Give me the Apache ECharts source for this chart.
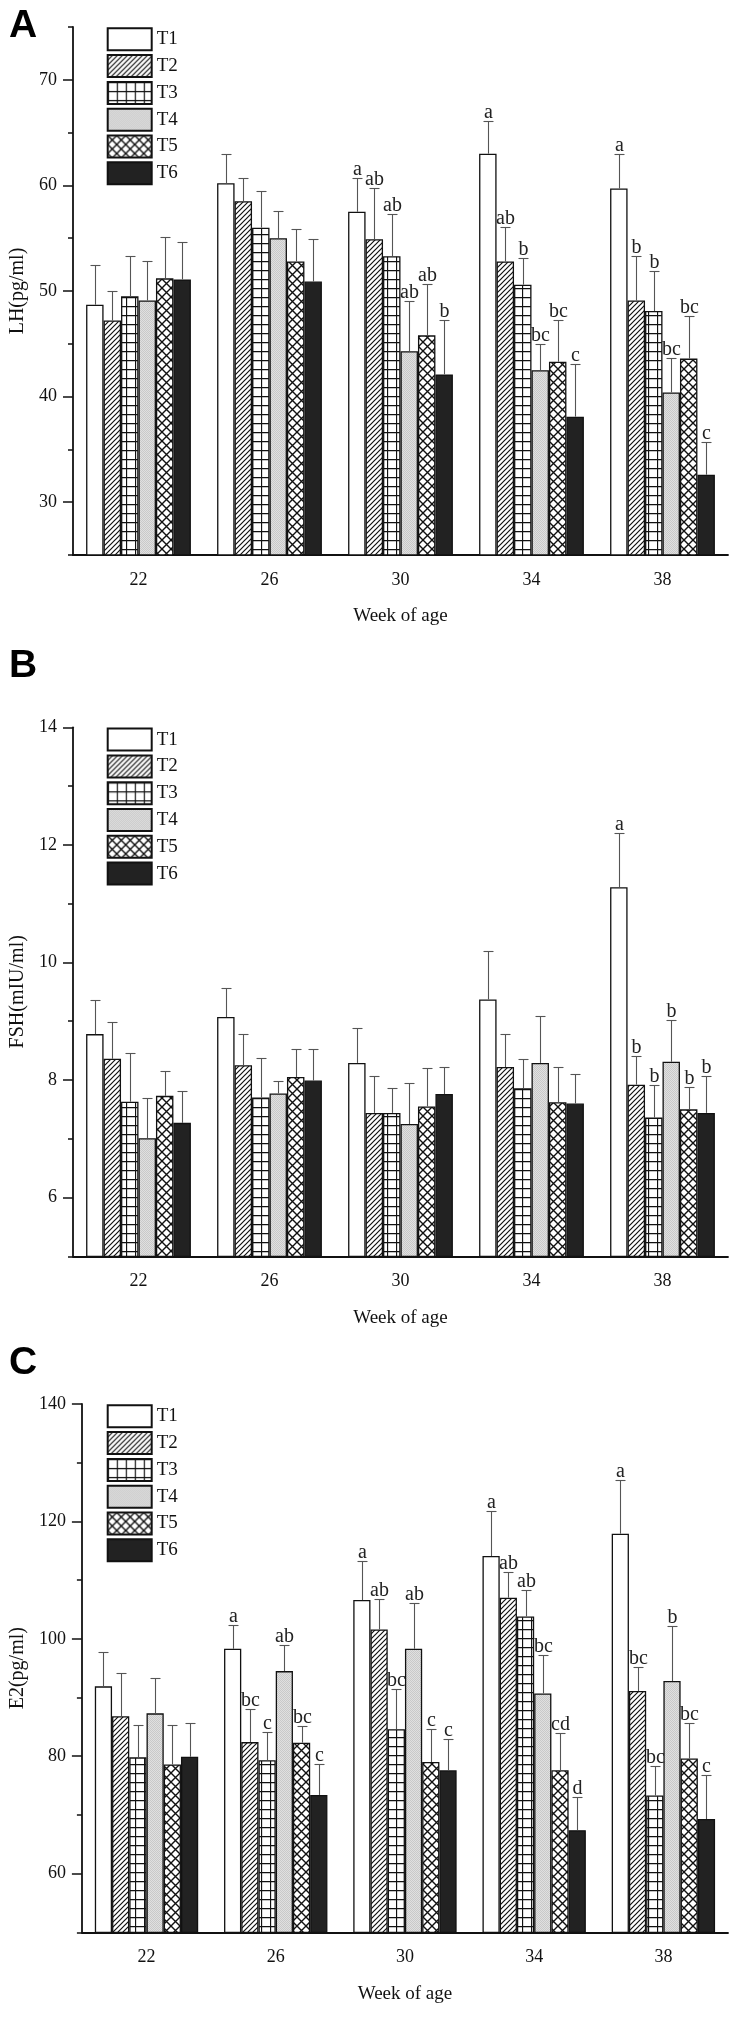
<!DOCTYPE html>
<html><head><meta charset="utf-8">
<script src="https://cdn.jsdelivr.net/npm/echarts@6/dist/echarts.min.js"></script>
<style>html,body{margin:0;padding:0;background:#fff}#c{width:736px;height:2019px}</style>
</head><body><div id="c"></div>
<script>
// ---------- data ----------
const weeks = ['22', '26', '30', '34', '38'];
const treatments = ['T1', 'T2', 'T3', 'T4', 'T5', 'T6'];

// Panel A: LH (pg/ml) — mean and top of error bar, one row per treatment (T1..T6), columns = weeks
const lhMean = [
  [48.7, 60.2, 57.5, 63.0, 59.7],
  [47.2, 58.5, 54.9, 52.8, 49.1],
  [49.5, 56.0, 53.3, 50.6, 48.1],
  [49.1, 55.0, 44.3, 42.5, 40.4],
  [51.2, 52.8, 45.8, 43.3, 43.6],
  [51.1, 50.9, 42.1, 38.1, 32.6]
];
const lhUpper = [
  [52.5, 63.0, 60.7, 66.1, 63.0],
  [50.0, 60.7, 59.8, 56.1, 53.3],
  [53.3, 59.5, 57.3, 53.1, 51.9],
  [52.8, 57.6, 49.1, 45.0, 43.7],
  [55.1, 55.9, 50.7, 47.3, 47.6],
  [54.6, 54.9, 47.3, 43.1, 35.7]
];
const lhLetters = [
  ['', '', 'a', 'a', 'a'],
  ['', '', 'ab', 'ab', 'b'],
  ['', '', 'ab', 'b', 'b'],
  ['', '', 'ab', 'bc', 'bc'],
  ['', '', 'ab', 'bc', 'bc'],
  ['', '', 'b', 'c', 'c']
];
const lhMajorTicks = [30, 40, 50, 60, 70];
const lhMinorTicks = [25, 35, 45, 55, 65, 75];

// Panel B: FSH (mIU/ml)
const fshMean = [
  [8.78, 9.07, 8.29, 9.37, 11.28],
  [8.36, 8.25, 7.44, 8.22, 7.92],
  [7.63, 7.70, 7.44, 7.86, 7.36],
  [7.01, 7.77, 7.25, 8.29, 8.31],
  [7.73, 8.05, 7.55, 7.62, 7.50],
  [7.27, 7.99, 7.76, 7.60, 7.44]
];
const fshUpper = [
  [9.36, 9.56, 8.88, 10.19, 12.20],
  [8.99, 8.78, 8.07, 8.79, 8.41],
  [8.46, 8.38, 7.87, 8.35, 7.91],
  [7.69, 7.98, 7.95, 9.08, 9.02],
  [8.15, 8.53, 8.21, 8.22, 7.88],
  [7.81, 8.53, 8.22, 8.10, 8.07]
];
const fshLetters = [
  ['', '', '', '', 'a'],
  ['', '', '', '', 'b'],
  ['', '', '', '', 'b'],
  ['', '', '', '', 'b'],
  ['', '', '', '', 'b'],
  ['', '', '', '', 'b']
];
const fshMajorTicks = [6, 8, 10, 12, 14];
const fshMinorTicks = [5, 7, 9, 11, 13];

// Panel C: E2 (pg/ml)
const e2Mean = [
  [91.9, 98.3, 106.6, 114.1, 117.9],
  [86.8, 82.4, 101.6, 107.0, 91.1],
  [79.8, 79.3, 84.6, 103.8, 73.3],
  [87.3, 94.5, 98.3, 90.7, 92.8],
  [78.6, 82.3, 79.0, 77.6, 79.6],
  [79.9, 73.4, 77.6, 67.4, 69.3]
];
const e2Upper = [
  [97.7, 102.4, 113.2, 121.8, 127.0],
  [94.1, 88.1, 106.7, 111.3, 95.2],
  [85.4, 84.1, 91.5, 108.3, 78.3],
  [93.3, 99.0, 106.1, 97.3, 102.2],
  [85.3, 85.1, 84.6, 84.0, 85.7],
  [85.7, 78.6, 82.9, 73.0, 76.8]
];
const e2Letters = [
  ['', 'a', 'a', 'a', 'a'],
  ['', 'bc', 'ab', 'ab', 'bc'],
  ['', 'c', 'bc', 'ab', 'bc'],
  ['', 'ab', 'ab', 'bc', 'b'],
  ['', 'bc', 'c', 'cd', 'bc'],
  ['', 'c', 'c', 'd', 'c']
];
const e2MajorTicks = [60, 80, 100, 120, 140];
const e2MinorTicks = [50, 70, 90, 110, 130];

// ---------- styles / layout ----------
const SERIF = '"Liberation Serif", "Times New Roman", serif';
const INK = '#111';

function makePattern(kind) {
  const s = kind === 'diag' ? 5 : (kind === 'stipple' ? 2 : 9);
  const c = document.createElement('canvas');
  c.width = s; c.height = s;
  const g = c.getContext('2d');
  g.fillStyle = '#fff'; g.fillRect(0, 0, s, s);
  if (kind === 'stipple') {
    g.fillStyle = '#e0e0e0'; g.fillRect(0, 0, 2, 2);
    g.fillStyle = '#c9c9c9'; g.fillRect(0, 0, 1, 1); g.fillRect(1, 1, 1, 1);
    return { image: c, repeat: 'repeat' };
  }
  g.strokeStyle = '#111'; g.lineWidth = 1.2;
  g.beginPath();
  if (kind === 'diag') {
    g.moveTo(-1, s + 1); g.lineTo(s + 1, -1);
    g.moveTo(-1, 1); g.lineTo(1, -1);
    g.moveTo(s - 1, s + 1); g.lineTo(s + 1, s - 1);
  } else if (kind === 'grid') {
    g.lineWidth = 1.3;
    g.moveTo(0.5, 0); g.lineTo(0.5, s);
    g.moveTo(0, 0.5); g.lineTo(s, 0.5);
  } else if (kind === 'cross') {
    g.lineWidth = 1.4;
    g.moveTo(0, 0); g.lineTo(s, s);
    g.moveTo(0, s); g.lineTo(s, 0);
  }
  g.stroke();
  return { image: c, repeat: 'repeat' };
}
const fills = [
  '#ffffff',
  makePattern('diag'),
  makePattern('grid'),
  makePattern('stipple'),
  makePattern('cross'),
  '#222222'
];

const panels = [
  { tag: 'A', tagTop: 7, name: 'LH(pg/ml)', top: 27, height: 528, min: 25, max: 75,
    major: lhMajorTicks, minor: lhMinorTicks, mean: lhMean, upper: lhUpper, letters: lhLetters },
  { tag: 'B', tagTop: 647, name: 'FSH(mIU/ml)', top: 727.3, height: 529, min: 5, max: 14,
    major: fshMajorTicks, minor: fshMinorTicks, mean: fshMean, upper: fshUpper, letters: fshLetters },
  { tag: 'C', tagTop: 1344, name: 'E2(pg/ml)', top: 1404, height: 528.3, min: 50, max: 140,
    major: e2MajorTicks, minor: e2MinorTicks, mean: e2Mean, upper: e2Upper, letters: e2Letters }
];

const option = {
  animation: false,
  backgroundColor: '#fff',
  title: [], legend: [], grid: [], xAxis: [], yAxis: [], series: []
};

panels.forEach((P, pi) => {
  option.title.push({
    text: P.tag, left: 9, top: P.tagTop, padding: 0,
    textStyle: { fontFamily: '"Liberation Sans", Arial, sans-serif', fontWeight: 'bold', fontSize: 39, color: '#000' }
  });
  option.legend.push({
    orient: 'vertical', left: 106.7, top: P.top + 0.3, padding: 0,
    itemWidth: 44, itemHeight: 22, itemGap: 2.8, icon: 'rect', selectedMode: false,
    data: treatments,
    textStyle: { fontFamily: SERIF, fontSize: 19, color: INK }
  });
  option.grid.push({ left: 73, width: 655, top: P.top, height: P.height, containLabel: false });
  option.xAxis.push({
    gridIndex: pi, type: 'category', data: weeks,
    axisLine: { lineStyle: { color: INK, width: 1.8 } },
    axisTick: { alignWithLabel: true, length: 10, lineStyle: { color: INK, width: 1.5 } },
    axisLabel: { fontFamily: SERIF, fontSize: 18, color: INK, margin: 16 },
    name: 'Week of age', nameLocation: 'middle', nameGap: 52,
    nameTextStyle: { fontFamily: SERIF, fontSize: 19, color: INK }
  });
  option.yAxis.push({
    gridIndex: pi, type: 'value', min: P.min, max: P.max, position: 'left',
    axisLine: { show: true, lineStyle: { color: INK, width: 1.8 } },
    axisTick: { show: true, customValues: P.major, length: 10, lineStyle: { color: INK, width: 1.5 } },
    axisLabel: { customValues: P.major, fontFamily: SERIF, fontSize: 18, color: INK, margin: 16 },
    splitLine: { show: false },
    name: P.name, nameLocation: 'middle', nameGap: 44, nameRotate: 90,
    nameTextStyle: { fontFamily: SERIF, fontSize: 20, color: INK }
  });
  option.yAxis.push({
    gridIndex: pi, type: 'value', min: P.min, max: P.max, position: 'left',
    axisLine: { show: false },
    axisTick: { show: true, customValues: P.minor, length: 5, lineStyle: { color: INK, width: 1.5 } },
    axisLabel: { show: false },
    splitLine: { show: false }
  });
  const yIdx = pi * 2;
  treatments.forEach((t, k) => {
    option.series.push({
      type: 'bar', name: t, xAxisIndex: pi, yAxisIndex: yIdx,
      data: P.mean[k], barGap: '0%', barCategoryGap: '20%',
      itemStyle: { color: fills[k], borderColor: '#111', borderWidth: 1.3 },
      emphasis: { disabled: true }
    });
  });
  const errData = [];
  treatments.forEach((t, k) => {
    weeks.forEach((w, g) => errData.push([g, k, P.mean[k][g], P.upper[k][g]]));
  });
  option.series.push({
    type: 'custom', xAxisIndex: pi, yAxisIndex: yIdx, z: 5, clip: false,
    encode: { x: 0, y: 3 },
    data: errData,
    renderItem: (params, api) => {
      const g = api.value(0), k = api.value(1), m = api.value(2), u = api.value(3);
      const p0 = api.coord([g, m]);
      const p1 = api.coord([g, u]);
      const bw = api.size([1, 0])[0] * 0.8 / 6;
      const x = Math.round(p0[0] + (k - 2.5) * bw) + 0.5;
      const yTop = Math.round(p1[1]) + 0.5;
      const children = [
        { type: 'line', shape: { x1: x, y1: p0[1], x2: x, y2: yTop }, style: { stroke: '#555', lineWidth: 1.1 } },
        { type: 'line', shape: { x1: x - 5, y1: yTop, x2: x + 5, y2: yTop }, style: { stroke: '#555', lineWidth: 1.1 } }
      ];
      const letter = P.letters[k][g];
      if (letter) {
        children.push({ type: 'text', style: {
          text: letter, x: x, y: yTop + 1, align: 'center', verticalAlign: 'bottom',
          font: '20px "Liberation Serif"', fill: '#222'
        } });
      }
      return { type: 'group', children: children };
    }
  });
});

const chart = echarts.init(document.getElementById('c'), null, { renderer: 'canvas', width: 736, height: 2019 });
chart.setOption(option);
</script>
</body></html>
